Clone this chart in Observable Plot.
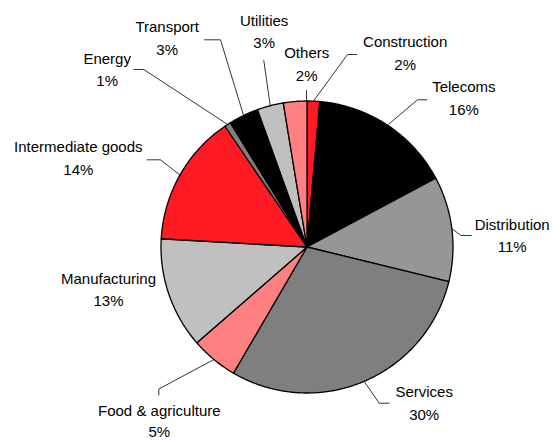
<!DOCTYPE html>
<html><head><meta charset="utf-8">
<script src="https://cdn.jsdelivr.net/npm/d3@7"></script>
<script src="https://cdn.jsdelivr.net/npm/@observablehq/plot@0.6"></script>
<style>body{margin:0;background:#fff}</style>
</head><body><div id="chart"></div>
<script>
// ---- data ----
const sectors = ["Construction","Telecoms","Distribution","Services","Food & agriculture","Manufacturing","Intermediate goods","Energy","Transport","Utilities","Others"];
const shares = [1.4, 15.8, 11.6, 29.6, 5.2, 12.3, 14.6, 0.7, 3.3, 2.9, 2.6];
const pctLabels = ["2%","16%","11%","30%","5%","13%","14%","1%","3%","3%","2%"];
const sliceColors = ["#ff1a24","#000000","#969696","#7f7f7f","#ff8080","#c0c0c0","#ff1a24","#808080","#000000","#c0c0c0","#ff8080"];

// ---- layout (pixel positions of annotations) ----
const W = 554, H = 441, CX = 306.5, CY = 246.5, R = 146;
const toU = ([px, py]) => [(px - CX) / R, (CY - py) / R];
const labelAt = {
  "Construction": [404.7, 46.7],
  "Telecoms": [463.3, 91.7],
  "Distribution": [511.7, 229.3],
  "Services": [423.7, 396.7],
  "Food & agriculture": [158.8, 415.5],
  "Manufacturing": [108, 283.3],
  "Intermediate goods": [77.8, 151.7],
  "Energy": [106.7, 63.3],
  "Transport": [166.7, 31.7],
  "Utilities": [263.7, 25],
  "Others": [306.2, 57.7]
};
const lineGap = {"Food & agriculture": 21};
const leaderPts = {
  "Construction": [[347, 54], [356.3, 54]],
  "Telecoms": [[417, 99.3], [426.3, 99.3]],
  "Distribution": [[460.7, 235], [470.7, 235]],
  "Services": [[378.7, 402.7], [388.7, 402.7]],
  "Food & agriculture": [[158.3, 388.5], [158.3, 394.5]],
  "Intermediate goods": [[160, 159.3], [146.7, 159.3]],
  "Energy": [[143.3, 69], [133.3, 69]],
  "Transport": [[220, 39.3], [204, 39.3]],
  "Utilities": [[263.3, 60]],
  "Others": [[306, 90]]
};
const leaderStart = { "Others": [306, 100.8] };

// ---- build pie geometry from the data ----
const total = d3.sum(shares);
let acc = 0;
const slices = sectors.map((name, i) => {
  const a0 = acc / total * 2 * Math.PI;
  acc += shares[i];
  const a1 = acc / total * 2 * Math.PI;
  return {name, a0, a1, color: sliceColors[i], pct: pctLabels[i]};
});
const slicePoly = s => {
  const n = Math.max(2, Math.ceil((s.a1 - s.a0) / (Math.PI / 360)));
  const pts = [{name: s.name, x: 0, y: 0}];
  for (let k = 0; k <= n; k++) {
    const a = s.a0 + (s.a1 - s.a0) * k / n;
    pts.push({name: s.name, x: Math.sin(a), y: Math.cos(a)});
  }
  return pts;
};
const leaderRows = slices.filter(s => leaderPts[s.name]).flatMap(s => {
  const mid = (s.a0 + s.a1) / 2;
  const start = leaderStart[s.name] ? toU(leaderStart[s.name]) : [Math.sin(mid), Math.cos(mid)];
  return [start, ...leaderPts[s.name].map(toU)].map(([x, y]) => ({name: s.name, x, y}));
});
const labelRows = slices.map(s => {
  const [x, y] = toU(labelAt[s.name]);
  const gap = lineGap[s.name] ?? 22.5;
  const [, y2] = toU([labelAt[s.name][0], labelAt[s.name][1] + gap]);
  return {name: s.name, pct: s.pct, x, y, y2};
});

const font = "Liberation Sans, Arial, Helvetica, sans-serif";
const chart = Plot.plot({
  width: W, height: H, margin: 0,
  x: {domain: [-CX / R, (W - CX) / R], axis: null},
  y: {domain: [(CY - H) / R, CY / R], axis: null},
  style: {background: "#fff", fontFamily: font},
  marks: [
    ...slices.map(s => Plot.line(slicePoly(s), {x: "x", y: "y", curve: "linear-closed", fill: s.color, stroke: "black", strokeWidth: 1.3, strokeLinejoin: "round"})),
    Plot.line(leaderRows, {x: "x", y: "y", z: "name", stroke: "black", strokeWidth: 0.8}),
    Plot.text(labelRows, {x: "x", y: "y", text: "name", lineAnchor: "bottom", fontSize: 15, fontFamily: font, fill: "black"}),
    Plot.text(labelRows, {x: "x", y: "y2", text: "pct", lineAnchor: "bottom", fontSize: 15, fontFamily: font, fill: "black"})
  ]
});
document.getElementById("chart").appendChild(chart);
</script>
</body></html>
